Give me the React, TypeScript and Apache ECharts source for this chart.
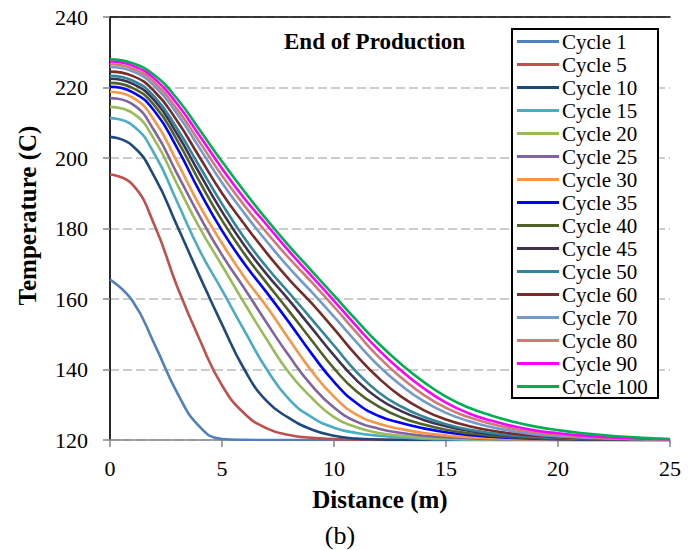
import { useEffect, useRef } from "react";
import * as echarts from "echarts";

const distance = [0, 1, 2, 3, 4, 5, 6, 7, 8, 9, 10, 11, 12, 13, 14, 15, 16, 17, 18, 19, 20, 21, 22, 23, 24, 25];
const xTicks = [0, 5, 10, 15, 20, 25];
const yTicks = [120, 140, 160, 180, 200, 220, 240];

const cycleNames = [
  "Cycle 1", "Cycle 5", "Cycle 10", "Cycle 15", "Cycle 20", "Cycle 25", "Cycle 30", "Cycle 35",
  "Cycle 40", "Cycle 45", "Cycle 50", "Cycle 60", "Cycle 70", "Cycle 80", "Cycle 90", "Cycle 100",
];

const cycle1 = [165.5, 159.5, 147.0, 133.4, 123.8, 120.3, 120.05, 120, 120, 120, 120, 120, 120, 120, 120, 120, 120, 120, 120, 120, 120, 120, 120, 120, 120, 120];
const cycle5 = [195.3, 192.5, 180.7, 163.5, 148.5, 135.5, 127.5, 123.3, 121.4, 120.6, 120.25, 120.1, 120.03, 120, 120, 120, 120, 120, 120, 120, 120, 120, 120, 120, 120, 120];
const cycle10 = [206, 203.5, 194.5, 180.7, 166.5, 152.8, 140.0, 131.0, 126.2, 123.0, 121.2, 120.4, 120.15, 120.05, 120, 120, 120, 120, 120, 120, 120, 120, 120, 120, 120, 120];
const cycle15 = [211.3, 209.3, 201.0, 187.5, 173.8, 162.5, 151.0, 140.0, 131.5, 126.5, 123.5, 122.0, 121.2, 120.7, 120.4, 120.2, 120.1, 120.05, 120, 120, 120, 120, 120, 120, 120, 120];
const cycle20 = [214.5, 212.8, 205.0, 192.5, 180.2, 169.5, 158.8, 148.5, 139.0, 132.0, 126.5, 123.6, 122.0, 121.2, 120.7, 120.45, 120.25, 120.15, 120.08, 120.04, 120, 120, 120, 120, 120, 120];
const cycle25 = [217, 215.3, 207.5, 195.5, 183.5, 172.5, 163, 153.2, 143.8, 135.5, 129.2, 125.2, 123.2, 122.0, 121.2, 120.8, 120.5, 120.3, 120.2, 120.1, 120.05, 120, 120, 120, 120, 120];
const cycle30 = [218.8, 217.2, 210.5, 198.8, 186.5, 175.8, 166.2, 157.8, 148.5, 139.6, 132.3, 127.2, 124.6, 123.1, 122.0, 121.3, 120.8, 120.5, 120.3, 120.2, 120.1, 120.05, 120, 120, 120, 120];
const cycle35 = [220.2, 218.7, 213.2, 202.8, 190.5, 179.4, 170, 161.8, 153.3, 144.5, 136.5, 130.5, 126.8, 124.8, 123.3, 122.2, 121.4, 120.9, 120.6, 120.4, 120.25, 120.15, 120.08, 120.04, 120.02, 120];
const cycle40 = [221.3, 219.9, 214.8, 205, 193.3, 182.3, 172.8, 164.5, 156.5, 148.3, 140.3, 133.8, 129.5, 126.4, 124.4, 122.9, 121.9, 121.2, 120.8, 120.5, 120.3, 120.2, 120.1, 120.05, 120.02, 120];
const cycle45 = [222.5, 221.1, 216.2, 206.8, 195.6, 184.8, 175.2, 167, 159.6, 151.8, 144, 137, 131.7, 128.2, 125.7, 123.9, 122.6, 121.7, 121.1, 120.7, 120.45, 120.3, 120.18, 120.1, 120.05, 120.02];
const cycle50 = [223.3, 222, 217.3, 208.3, 197.6, 187, 177.3, 169, 161.7, 154.3, 146.8, 139.3, 133.5, 129.5, 126.6, 124.5, 123, 122, 121.3, 120.85, 120.55, 120.35, 120.2, 120.12, 120.06, 120.03];
const cycle60 = [224.5, 223.3, 218.8, 210.5, 200.2, 190, 181.2, 173, 165.5, 158.8, 151.5, 144, 137.5, 132.3, 128.5, 125.8, 124, 122.7, 121.8, 121.2, 120.8, 120.5, 120.3, 120.17, 120.1, 120.05];
const cycle70 = [225.8, 224.6, 220.3, 212.5, 202.8, 193, 184.3, 176.3, 168.8, 162, 155, 147.8, 141, 135.5, 131, 127.7, 125.4, 123.7, 122.5, 121.6, 121.1, 120.7, 120.45, 120.28, 120.16, 120.1];
const cycle80 = [226.6, 225.4, 221.3, 213.8, 204.5, 195, 186.5, 178.8, 171.5, 164.8, 157.8, 150.5, 143.5, 137.7, 132.8, 129.1, 126.5, 124.6, 123.2, 122.2, 121.5, 121, 120.65, 120.4, 120.25, 120.15];
const cycle90 = [227.4, 226.2, 222.4, 215.3, 206.3, 197, 188.5, 181, 173.5, 166.5, 159.5, 152.3, 145.5, 139.7, 134.7, 130.6, 127.6, 125.5, 123.9, 122.7, 121.9, 121.3, 120.85, 120.55, 120.35, 120.2];
const cycle100 = [228, 226.9, 223.4, 216.8, 208, 199, 190.5, 182.5, 175, 168, 161, 154, 147.3, 141.5, 136.5, 132.3, 129.2, 127, 125.2, 123.8, 122.8, 122, 121.4, 120.9, 120.55, 120.3];

const allCycles = [
  cycle1, cycle5, cycle10, cycle15, cycle20, cycle25, cycle30, cycle35,
  cycle40, cycle45, cycle50, cycle60, cycle70, cycle80, cycle90, cycle100,
];

const colors = [
  "#4F81BD", "#C0504D", "#1F497D", "#4BACC6", "#9BBB59", "#8064A2", "#F79646", "#0000FF",
  "#4F6228", "#403152", "#31859C", "#772C2A", "#729ACA", "#D07A75", "#FF00FF", "#00B050",
];

const FONT = '"Liberation Serif", "Times New Roman", serif';

export default function App() {
  const ref = useRef<HTMLDivElement>(null);

  useEffect(() => {
    document.body.style.margin = "0";
    const chart = echarts.init(ref.current!, null, { renderer: "svg" });
    const series = allCycles.map((vals, i) => ({
      name: cycleNames[i],
      type: "line",
      data: vals.map((v, j) => [distance[j], v]),
      showSymbol: false,
      symbol: "none",
      smooth: 0.5,
      color: colors[i],
      lineStyle: { width: 2.6, color: colors[i] },
      z: 2,
    }));

    chart.setOption({
      animation: false,
      backgroundColor: "#ffffff",
      textStyle: { fontFamily: FONT },
      title: {
        text: "End of Production",
        left: 284,
        top: 30,
        padding: 0,
        textStyle: { fontFamily: FONT, fontWeight: "bold", fontSize: 23, color: "#000" },
      },
      grid: { left: 110, right: 29, top: 17, bottom: 110, containLabel: false, outerBoundsMode: "none" },
      xAxis: [
        {
          type: "value",
          min: xTicks[0],
          max: xTicks[xTicks.length - 1],
          interval: 5,
          position: "bottom",
          axisLine: { show: true, lineStyle: { color: "#868686", width: 1.5 } },
          axisTick: { show: true, length: 7, lineStyle: { color: "#868686", width: 1.5 } },
          splitLine: { show: false },
          axisLabel: { fontSize: 22, color: "#000", margin: 17, fontFamily: FONT },
          name: "Distance (m)",
          nameLocation: "middle",
          nameGap: 47,
          nameTextStyle: { fontFamily: FONT, fontWeight: "bold", fontSize: 25, color: "#000", padding: [0, 20, 0, 0] },
        },
        {
          type: "value",
          min: xTicks[0],
          max: xTicks[xTicks.length - 1],
          position: "top",
          axisLine: { show: true, lineStyle: { color: "#000", width: 1.5 } },
          axisTick: { show: false },
          axisLabel: { show: false },
          splitLine: { show: false },
        },
      ],
      yAxis: [
        {
          type: "value",
          min: yTicks[0],
          max: yTicks[yTicks.length - 1],
          interval: 20,
          position: "left",
          axisLine: { show: true, lineStyle: { color: "#868686", width: 1.5 } },
          axisTick: { show: true, length: 7, lineStyle: { color: "#868686", width: 1.5 } },
          splitLine: { show: true, lineStyle: { color: "#BDBDBD", width: 1.5, type: [9, 4] } },
          axisLabel: { fontSize: 22, color: "#000", margin: 22, fontFamily: FONT },
          name: "Temperature (C)",
          nameLocation: "middle",
          nameGap: 70,
          nameTextStyle: { fontFamily: FONT, fontWeight: "bold", fontSize: 25, color: "#000", padding: [0, 0, 0, 26] },
        },
        {
          type: "value",
          min: yTicks[0],
          max: yTicks[yTicks.length - 1],
          position: "right",
          axisLine: { show: true, lineStyle: { color: "#000", width: 1.5 } },
          axisTick: { show: false },
          axisLabel: { show: false },
          splitLine: { show: false },
        },
      ],
      legend: {
        orient: "vertical",
        left: 517,
        top: 30,
        padding: 0,
        itemGap: 0,
        itemWidth: 42,
        itemHeight: 3,
        icon: "rect",
        z: 10,
        data: cycleNames,
        textStyle: { fontFamily: FONT, fontSize: 21, lineHeight: 23, color: "#000", padding: [0, 0, 0, -2] },
      },
      graphic: [
        {
          type: "rect",
          z: 3,
          shape: { x: 512, y: 29, width: 146, height: 369 },
          style: { fill: "#fff", stroke: "#000", lineWidth: 2 },
        },
        {
          type: "text",
          x: 340,
          y: 535,
          style: { text: "(b)", fontFamily: FONT, fontSize: 26, fill: "#000", align: "center", verticalAlign: "middle" },
        },
      ],
      series,
    });
    return () => chart.dispose();
  }, []);

  return <div ref={ref} style={{ width: 699, height: 550 }} />;
}
